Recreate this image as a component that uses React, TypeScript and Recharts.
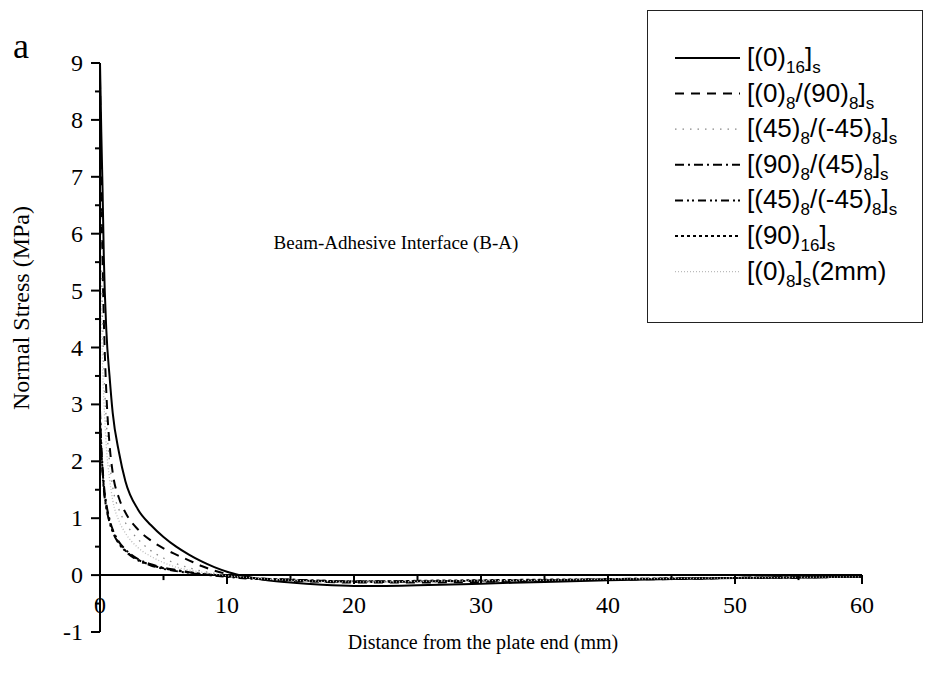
import React from 'react';
import {
  LineChart,
  Line,
  XAxis,
  YAxis,
  ReferenceLine,
  Legend,
} from 'recharts';

// distance from the plate end (mm), shared by all series
const distance = [0, 0.1, 0.2, 0.3, 0.5, 0.75, 1, 1.5, 2, 3, 4, 5, 6, 7, 8, 9, 10, 11, 12.5, 15, 17.5, 20, 22.5, 25, 30, 35, 40, 45, 50, 55, 60];

// normal stress (MPa) per lay-up
const s0_16 = [9.0, 7.8, 6.8, 5.6, 4.3, 3.5, 2.85, 2.15, 1.65, 1.15, 0.88, 0.67, 0.5, 0.36, 0.24, 0.14, 0.06, 0.0, -0.07, -0.13, -0.17, -0.19, -0.19, -0.18, -0.15, -0.12, -0.09, -0.07, -0.05, -0.04, -0.03];
const s0_90 = [8.7, 6.8, 5.5, 4.5, 3.2, 2.3, 1.8, 1.35, 1.1, 0.8, 0.61, 0.47, 0.36, 0.26, 0.16, 0.08, 0.02, -0.02, -0.06, -0.1, -0.12, -0.13, -0.13, -0.13, -0.12, -0.1, -0.08, -0.07, -0.05, -0.04, -0.03];
const s45_m45 = [7.2, 5.6, 4.5, 3.7, 2.7, 2.0, 1.55, 1.15, 0.92, 0.63, 0.43, 0.3, 0.2, 0.13, 0.07, 0.03, -0.01, -0.04, -0.07, -0.1, -0.11, -0.12, -0.12, -0.11, -0.1, -0.09, -0.07, -0.06, -0.05, -0.04, -0.03];
const s90_45 = [2.9, 2.3, 1.9, 1.6, 1.25, 0.98, 0.8, 0.58, 0.45, 0.28, 0.19, 0.13, 0.09, 0.05, 0.02, 0.0, -0.02, -0.04, -0.06, -0.08, -0.1, -0.11, -0.11, -0.11, -0.1, -0.09, -0.07, -0.06, -0.05, -0.04, -0.03];
const s45_m45b = [2.7, 2.15, 1.8, 1.5, 1.18, 0.93, 0.76, 0.55, 0.42, 0.26, 0.17, 0.11, 0.07, 0.04, 0.01, -0.01, -0.03, -0.05, -0.07, -0.09, -0.11, -0.12, -0.12, -0.11, -0.1, -0.09, -0.08, -0.06, -0.05, -0.04, -0.03];
const s90_16 = [2.8, 2.2, 1.85, 1.55, 1.2, 0.95, 0.78, 0.56, 0.43, 0.27, 0.18, 0.12, 0.08, 0.05, 0.02, 0.0, -0.02, -0.04, -0.06, -0.08, -0.1, -0.11, -0.11, -0.1, -0.09, -0.08, -0.07, -0.06, -0.05, -0.04, -0.03];
const s0_2mm = [6.2, 4.7, 3.7, 3.1, 2.25, 1.7, 1.32, 0.95, 0.74, 0.48, 0.33, 0.22, 0.14, 0.09, 0.05, 0.02, -0.01, -0.03, -0.06, -0.09, -0.11, -0.12, -0.12, -0.11, -0.1, -0.09, -0.07, -0.06, -0.05, -0.04, -0.03];

// legend labels, _{..} marks a subscript
const labels = [
  '[(0)_{16}]_{s}',
  '[(0)_{8}/(90)_{8}]_{s}',
  '[(45)_{8}/(-45)_{8}]_{s}',
  '[(90)_{8}/(45)_{8}]_{s}',
  '[(45)_{8}/(-45)_{8}]_{s}',
  '[(90)_{16}]_{s}',
  '[(0)_{8}]_{s}(2mm)',
];

const xTicks = [0, 5, 10, 15, 20, 25, 30, 35, 40, 45, 50, 55, 60];
const yTicks = [-1, -0.5, 0, 0.5, 1, 1.5, 2, 2.5, 3, 3.5, 4, 4.5, 5, 5.5, 6, 6.5, 7, 7.5, 8, 8.5, 9];

const series = [
  { key: 's1', values: s0_16, stroke: '#000', width: 2, dash: undefined },
  { key: 's2', values: s0_90, stroke: '#000', width: 2, dash: '9 7' },
  { key: 's3', values: s45_m45, stroke: '#888', width: 1.3, dash: '1.5 6' },
  { key: 's4', values: s90_45, stroke: '#000', width: 2, dash: '9 4 2 4' },
  { key: 's5', values: s45_m45b, stroke: '#000', width: 2, dash: '8 4 2 3 2 4' },
  { key: 's6', values: s90_16, stroke: '#000', width: 2, dash: '3 3' },
  { key: 's7', values: s0_2mm, stroke: '#bbb', width: 1.3, dash: '1 2' },
];

const data = distance.map((d, i) => {
  const row: Record<string, number> = { d };
  series.forEach(s => { row[s.key] = s.values[i]; });
  return row;
});

const W = 927;
const H = 673;
const TOP = 63;
const LEFT = 100;
const PLOT_H = 569;
const ZERO_Y = TOP + PLOT_H * 0.9;
const SERIF = '"Liberation Serif", "Times New Roman", serif';
const SANS = '"Liberation Sans", Arial, sans-serif';

const XTick = (props: any) => {
  const { x, payload } = props;
  const v = payload.value;
  const major = v % 10 === 0;
  return (
    <g>
      <line x1={x} x2={x} y1={ZERO_Y} y2={ZERO_Y + (major ? 9 : 5)} stroke="#000" strokeWidth={2} />
      {major && (
        <text x={x} y={ZERO_Y + 38} textAnchor="middle" fontFamily={SERIF} fontSize={24} fill="#000">
          {v}
        </text>
      )}
    </g>
  );
};

const YTick = (props: any) => {
  const { y, payload } = props;
  const v = payload.value;
  const major = Number.isInteger(v);
  return (
    <g>
      <line x1={LEFT} x2={LEFT - (major ? 9 : 5)} y1={y} y2={y} stroke="#000" strokeWidth={2} />
      {major && (
        <text x={LEFT - 17} y={y + 8} textAnchor="end" fontFamily={SERIF} fontSize={24} fill="#000">
          {v}
        </text>
      )}
    </g>
  );
};

function renderLabel(label: string) {
  const parts = label.split(/_\{([^}]*)\}/);
  return parts.map((p, i) =>
    i % 2 === 1 ? (
      <tspan key={i} fontSize={17} dy={7}>{p}</tspan>
    ) : (
      <tspan key={i} fontSize={26} dy={i === 0 ? 0 : -7}>{p}</tspan>
    )
  );
}

const LegendBox = () => (
  <svg width={276} height={313} style={{ display: 'block' }}>
    <rect x={0.5} y={0.5} width={275} height={312} fill="#fff" stroke="#222" strokeWidth={1} />
    {series.map((s, i) => {
      const cy = 48 + i * 35.6;
      return (
        <g key={s.key}>
          <line x1={28} x2={93} y1={cy} y2={cy} stroke={s.stroke} strokeWidth={s.width} strokeDasharray={s.dash} />
          <text x={100} y={cy + 8} fontFamily={SANS} fill="#000">
            {renderLabel(labels[i])}
          </text>
        </g>
      );
    })}
  </svg>
);

export default function App() {
  return (
    <div style={{ position: 'absolute', left: 0, top: 0, width: W, height: H, background: '#fff' }}>
      <LineChart
        width={W}
        height={H}
        data={data}
        margin={{ top: TOP, right: 65, left: 40, bottom: 40 }}
      >
        <XAxis
          dataKey="d"
          type="number"
          domain={[0, 60]}
          ticks={xTicks}
          axisLine={false}
          tickLine={false}
          height={1}
          tick={<XTick />}
          interval={0}
        />
        <YAxis
          type="number"
          domain={[-1, 9]}
          ticks={yTicks}
          width={60}
          axisLine={{ stroke: '#000', strokeWidth: 2 }}
          tickLine={false}
          tick={<YTick />}
          interval={0}
        />
        <ReferenceLine y={0} stroke="#000" strokeWidth={2} />
        {series.map(s => (
          <Line
            key={s.key}
            dataKey={s.key}
            type="monotone"
            stroke={s.stroke}
            strokeWidth={s.width}
            strokeDasharray={s.dash}
            dot={false}
            activeDot={false}
            isAnimationActive={false}
          />
        ))}
        <Legend
          layout="horizontal"
          verticalAlign="middle"
          align="center"
          content={() => <LegendBox />}
          wrapperStyle={{ position: 'absolute', left: 647, top: 10, width: 276, height: 313 }}
        />
        <text x={13} y={58} fontFamily={SERIF} fontSize={36} fill="#000">a</text>
        <text x={29} y={308} transform="rotate(-90 29 308)" textAnchor="middle" fontFamily={SERIF} fontSize={24} fill="#000">
          Normal Stress (MPa)
        </text>
        <text x={483} y={649} textAnchor="middle" fontFamily={SERIF} fontSize={20} fill="#000">
          Distance from the plate end (mm)
        </text>
        <text x={396} y={249} textAnchor="middle" fontFamily={SERIF} fontSize={19} fill="#000">
          Beam-Adhesive Interface (B-A)
        </text>
      </LineChart>
    </div>
  );
}
